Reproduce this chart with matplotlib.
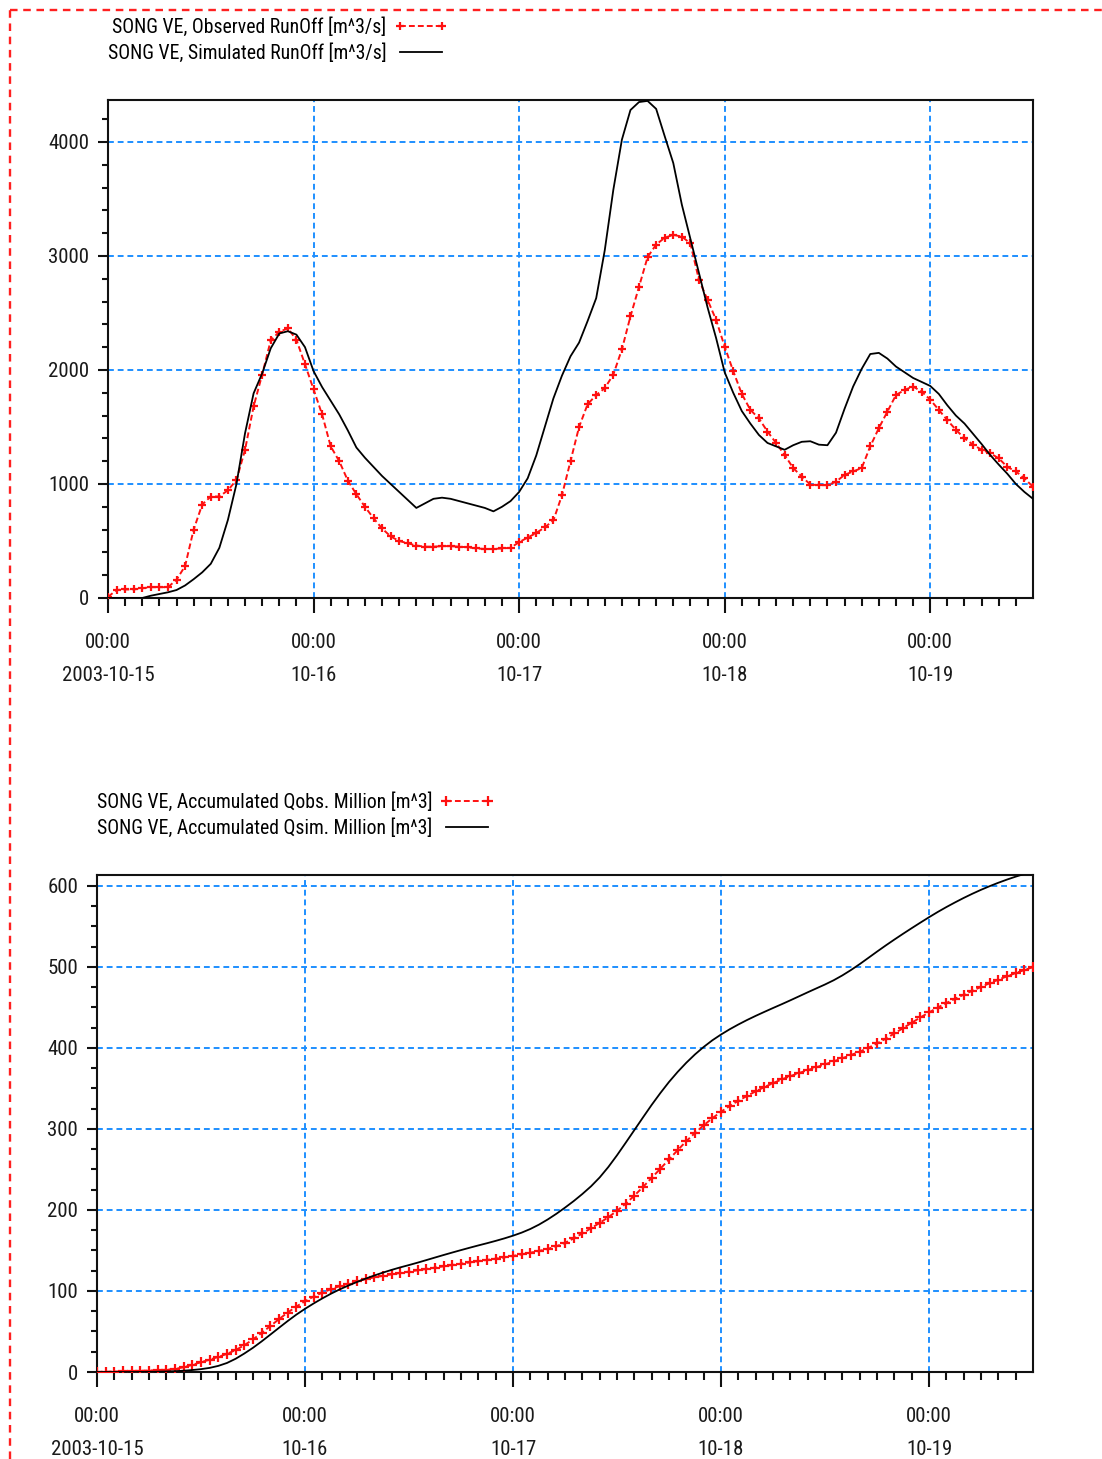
import numpy as np
import pandas as pd
import matplotlib
matplotlib.use("Agg")
import matplotlib.pyplot as plt
import matplotlib.dates as mdates
from matplotlib.ticker import MultipleLocator, FixedLocator, FuncFormatter
from matplotlib.lines import Line2D

plt.rcParams['font.family'] = ['Roboto Condensed', 'Liberation Sans', 'DejaVu Sans']

# Hourly series, 2003-10-15 00:00 .. 2003-10-19 12:00
start = pd.Timestamp('2003-10-15 00:00')
end = pd.Timestamp('2003-10-19 12:00')
times = pd.date_range(start, end, freq='h')

# Observed runoff at SONG VE [m^3/s]
observed_runoff = [
    10, 70, 75, 75, 85, 95, 95, 95, 160, 280, 600, 820,
    890, 890, 945, 1035, 1300, 1680, 1960, 2260, 2335, 2365, 2265, 2050,
    1830, 1610, 1330, 1200, 1030, 910, 800, 700, 610, 540, 500, 480,
    460, 450, 450, 455, 455, 450, 445, 435, 430, 430, 435, 440,
    490, 530, 570, 620, 680, 900, 1200, 1500, 1700, 1780, 1840, 1960,
    2180, 2470, 2730, 2990, 3100, 3160, 3185, 3170, 3110, 2790, 2615, 2440,
    2205, 1990, 1790, 1650, 1575, 1460, 1360, 1255, 1140, 1065, 995, 990,
    990, 1020, 1080, 1110, 1140, 1330, 1490, 1635, 1780, 1825, 1855, 1810,
    1740, 1650, 1560, 1475, 1400, 1345, 1300, 1270, 1225, 1150, 1110, 1050,
    975,
]

# Simulated runoff at SONG VE [m^3/s]
simulated_runoff = [
    0, 0, 0, 0, 0, 20, 35, 50, 70, 110, 165, 225,
    300, 440, 685, 1000, 1445, 1795, 1970, 2190, 2320, 2340, 2310, 2200,
    1990, 1850, 1730, 1610, 1470, 1320, 1230, 1150, 1070, 1000, 930, 860,
    790, 830, 870, 880, 870, 850, 830, 810, 790, 760, 800, 850,
    930, 1050, 1250, 1500, 1750, 1950, 2120, 2240, 2430, 2630, 3050, 3580,
    4020, 4280, 4350, 4360, 4290, 4050, 3815, 3450, 3150, 2850, 2550, 2280,
    1980, 1800, 1640, 1530, 1430, 1360, 1330, 1300, 1340, 1370, 1375, 1345,
    1340, 1450, 1660, 1855, 2010, 2140, 2150, 2100, 2030, 1980, 1930, 1895,
    1860, 1790, 1690, 1600, 1530, 1440, 1350, 1255, 1170, 1090, 1000, 930,
    870,
]

# Accumulated volume in million m^3 (hourly discharge x 3600 s)
acc_observed = np.cumsum(np.asarray(observed_runoff, float) * 3600.0) / 1e6
acc_simulated = np.cumsum(np.asarray(simulated_runoff, float) * 3600.0) / 1e6

obs_label = 'SONG VE, Observed RunOff [m^3/s]'
sim_label = 'SONG VE, Simulated RunOff [m^3/s]'
acc_obs_label = 'SONG VE, Accumulated Qobs. Million [m^3]'
acc_sim_label = 'SONG VE, Accumulated Qsim. Million [m^3]'

W, H = 1102, 1459
fig = plt.figure(figsize=(W / 100, H / 100), dpi=100)
fig.patch.set_facecolor('white')

GRID_BLUE = '#1e8fff'
FS = 15
LEG_FS = 14.2


def px_box(left, top, right, bottom):
    return [left / W, 1 - bottom / H, (right - left) / W, (bottom - top) / H]


def style_axes(ax, ymax, ymajor, yminor):
    ax.set_xlim(start, end)
    ax.set_ylim(0, ymax)
    ax.xaxis.set_major_locator(mdates.DayLocator())
    minor_hours = [start + pd.Timedelta(hours=h) for h in range(2, 108, 2) if h % 24]
    ax.xaxis.set_minor_locator(FixedLocator(mdates.date2num(minor_hours)))

    def day_fmt(x, pos):
        d = mdates.num2date(x)
        if d.date() == start.date():
            return '00:00\n2003-10-15'
        return d.strftime('%H:%M\n%m-%d')

    ax.xaxis.set_major_formatter(FuncFormatter(day_fmt))
    ax.yaxis.set_major_locator(MultipleLocator(ymajor))
    ax.yaxis.set_minor_locator(MultipleLocator(yminor))
    ax.tick_params(axis='both', which='both', direction='out', width=1.5,
                   color='#111111', labelsize=FS, labelcolor='#1a1a1a')
    ax.tick_params(axis='x', which='major', length=11, pad=14)
    ax.tick_params(axis='x', which='minor', length=6)
    ax.tick_params(axis='y', which='major', length=7.5, pad=6)
    ax.tick_params(axis='y', which='minor', length=4.5)
    ax.tick_params(top=False, right=False)
    for sp in ax.spines.values():
        sp.set_linewidth(1.5)
        sp.set_color('#111111')
    ax.grid(True, which='major', color=GRID_BLUE, linestyle=(0, (3, 2)), linewidth=1.4)
    ax.set_axisbelow(True)


def draw_pair(ax, obs, sim, lab_obs, lab_sim, ms):
    ax.plot(times, obs, color='#ff1010', linestyle=(0, (3, 1.6)), linewidth=1.4,
            marker='+', markersize=ms, markeredgewidth=1.6, label=lab_obs,
            zorder=3)
    ax.plot(times, sim, color='black', linewidth=1.3, label=lab_sim, zorder=4)
    ax.legend(loc='lower left', bbox_to_anchor=(0.0, 1.075), borderaxespad=0,
              borderpad=0, frameon=False, markerfirst=False, numpoints=2,
              handlelength=2.7, handletextpad=0.4, labelspacing=0.33,
              fontsize=LEG_FS)


ax1 = fig.add_axes(px_box(108, 100, 1033, 598))
style_axes(ax1, 4368, 1000, 200)
draw_pair(ax1, observed_runoff, simulated_runoff, obs_label, sim_label, 6)

ax2 = fig.add_axes(px_box(97, 875, 1033, 1372))
style_axes(ax2, 613.5, 100, 25)
draw_pair(ax2, acc_observed, acc_simulated, acc_obs_label, acc_sim_label, 7)

fig.canvas.draw()
for ax in (ax1, ax2):
    for lbl in ax.xaxis.get_majorticklabels():
        lbl.set_linespacing(1.97)

# Red dashed page frame (top and left edges)
frame_kw = dict(transform=fig.transFigure, color='#ff2020', linewidth=1.7,
                linestyle=(0, (3.2, 2.4)))
fig.add_artist(Line2D([10 / W, 1.0], [1 - 10 / H, 1 - 10 / H], **frame_kw))
fig.add_artist(Line2D([10 / W, 10 / W], [0.0, 1 - 10 / H], **frame_kw))

fig.savefig('out.png', dpi=100, facecolor='white')
